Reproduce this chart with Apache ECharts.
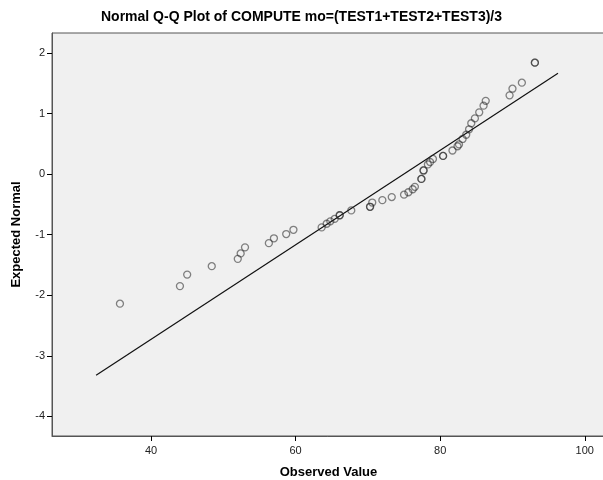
<!DOCTYPE html>
<html>
<head>
<meta charset="utf-8">
<script src="https://cdn.jsdelivr.net/npm/echarts@6/dist/echarts.min.js"></script>
<style>
  html, body { margin: 0; padding: 0; background: #fff; }
  #qq { width: 603px; height: 480px; }
</style>
</head>
<body>
<div id="qq"></div>
<script>
// observed values (x) and expected normal values (y), read off the plot
// tied values appear twice so their circles look darker, like SPSS draws them
var observed = [35.7, 44.0, 45.0, 48.4, 52.0, 52.4, 53.0, 56.3, 57.0, 58.7, 59.7,
    63.6, 64.3, 64.8, 65.4, 66.1, 66.1, 67.7, 70.3, 70.3, 70.6, 72.0, 73.3,
    75.0, 75.6, 76.2, 76.5, 77.4, 77.4, 77.7, 77.7, 78.3, 78.6, 79.0, 80.4, 80.4,
    81.7, 82.4, 82.6, 83.1, 83.6, 84.0, 84.3, 84.8, 85.4, 86.0, 86.3,
    89.6, 90.0, 91.3, 93.1, 93.1];
var expected = [-2.14, -1.85, -1.66, -1.52, -1.40, -1.31, -1.21, -1.14, -1.06, -0.99, -0.92,
    -0.88, -0.82, -0.78, -0.74, -0.68, -0.68, -0.60, -0.54, -0.54, -0.47, -0.43, -0.38,
    -0.34, -0.30, -0.25, -0.21, -0.08, -0.08, 0.06, 0.06, 0.16, 0.20, 0.25, 0.30, 0.30,
    0.39, 0.46, 0.49, 0.58, 0.65, 0.74, 0.84, 0.92, 1.02, 1.13, 1.21,
    1.30, 1.41, 1.51, 1.84, 1.84];

// reference line end points
var lineX = [32.4, 96.3];
var lineY = [-3.32, 1.665];

var xTicks = [40, 60, 80, 100];
var yTicks = [-4, -3, -2, -1, 0, 1, 2];

var points = observed.map(function (v, i) { return [v, expected[i]]; });
var refLine = lineX.map(function (v, i) { return [v, lineY[i]]; });

var chart = echarts.init(document.getElementById('qq'));
chart.setOption({
    animation: false,
    backgroundColor: '#fff',
    title: {
        text: 'Normal Q-Q Plot of COMPUTE mo=(TEST1+TEST2+TEST3)/3',
        left: 'center',
        top: 5,
        textStyle: { fontFamily: 'Liberation Sans', fontSize: 14, fontWeight: 'bold', color: '#000' }
    },
    grid: {
        left: 52, right: -2, top: 33, bottom: 44,
        outerBoundsMode: 'none',
        containLabel: false,
        show: true,
        backgroundColor: '#f0f0f0',
        borderColor: '#555',
        borderWidth: 1
    },
    xAxis: {
        type: 'value',
        min: 26.3, max: 102.8,
        name: 'Observed Value',
        nameLocation: 'middle',
        nameGap: 30,
        nameTextStyle: { fontFamily: 'Liberation Sans', fontSize: 13, fontWeight: 'bold', color: '#000' },
        axisLine: { show: true, onZero: false, lineStyle: { color: '#555' } },
        axisTick: { show: true, length: 5, customValues: xTicks, lineStyle: { color: '#000' } },
        axisLabel: { customValues: xTicks, margin: 9, fontFamily: 'Liberation Sans', fontSize: 11, color: '#222' },
        splitLine: { show: false }
    },
    yAxis: {
        type: 'value',
        min: -4.325, max: 2.33,
        name: 'Expected Normal',
        nameLocation: 'middle',
        nameGap: 29,
        nameTextStyle: { fontFamily: 'Liberation Sans', fontSize: 13, fontWeight: 'bold', color: '#000' },
        axisLine: { show: true, onZero: false, lineStyle: { color: '#555' } },
        axisTick: { show: true, length: 5, customValues: yTicks, lineStyle: { color: '#000' } },
        axisLabel: { customValues: yTicks, margin: 7, fontFamily: 'Liberation Sans', fontSize: 11, color: '#222' },
        splitLine: { show: false }
    },
    series: [
        {
            type: 'line',
            data: refLine,
            symbol: 'none',
            lineStyle: { color: '#111', width: 1.2 },
            silent: true,
            z: 2
        },
        {
            type: 'scatter',
            data: points,
            symbol: 'circle',
            symbolSize: 7,
            itemStyle: { color: 'rgba(0,0,0,0)', borderColor: 'rgba(40,40,40,0.7)', borderWidth: 1.3 },
            z: 3
        }
    ]
});
</script>
</body>
</html>
